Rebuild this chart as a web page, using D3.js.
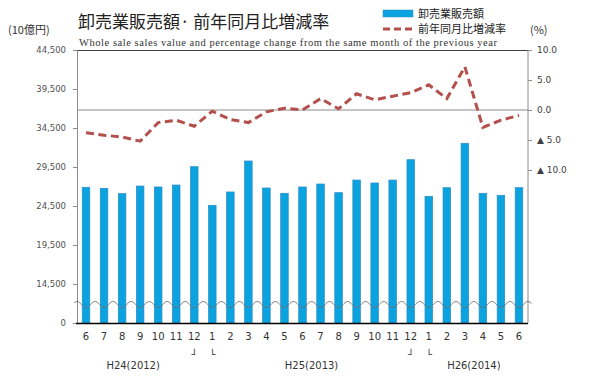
<!DOCTYPE html>
<html><head><meta charset="utf-8">
<script src="https://cdn.jsdelivr.net/npm/d3@7"></script>
<style>
body{margin:0;background:#fff;}
svg{display:block;}
</style></head>
<body>
<svg id="chart" width="600" height="382"></svg>
<script>
const months = ["6","7","8","9","10","11","12","1","2","3","4","5","6","7","8","9","10","11","12","1","2","3","4","5","6"];
const sales = [26900,26770,26080,27060,26940,27190,29540,24590,26300,30270,26810,26130,26940,27320,26210,27830,27450,27830,30440,25740,26850,32540,26130,25870,26850];
const change = [-3.8,-4.2,-4.5,-5.2,-2.1,-1.7,-2.7,-0.2,-1.6,-2.1,-0.3,0.3,0.0,1.9,0.2,2.7,1.7,2.3,2.9,4.2,1.9,7.2,-2.9,-1.7,-0.9];
const leftTicks = [0,14500,19500,24500,29500,34500,39500,44500];
const rightTicks = [10,5,0,-5,-10];
const yearLabels = [{label:"H24(2012)", from:0, to:6},{label:"H25(2013)", from:7, to:18},{label:"H26(2014)", from:19, to:24}];
const yearMarks = [{label:"┘", at:6},{label:"└", at:7},{label:"┘", at:18},{label:"└", at:19}];

const svg = d3.select("#chart");
const L = 77, R = 528, T = 50, B = 323;
const idx = months.map((d,i)=>i);
const x = d3.scaleBand().domain(idx).range([L,R]).paddingInner(0.58).paddingOuter(0.29);
const y = d3.scaleLinear().domain([0,14500,44500]).range([B,284,T]);
const y2 = d3.scaleLinear().domain([-10,10]).range([170,T]);
const cx = i => x(i) + x.bandwidth()/2;

const numFont = "DejaVu Sans, Verdana, sans-serif";
const jpFont = "'Noto Sans CJK JP', sans-serif";

// bars
svg.append("g").selectAll("rect").data(sales).join("rect")
  .attr("x",(d,i)=>x(i)).attr("width",x.bandwidth())
  .attr("y",d=>y(d)).attr("height",d=>B-y(d))
  .attr("fill","#0aa3e0").attr("stroke","#2f8bc2").attr("stroke-width",0.7);

// zero line
svg.append("line").attr("x1",L).attr("x2",R).attr("y1",y2(0)).attr("y2",y2(0))
  .attr("stroke","#8c8c8c").attr("stroke-width",1);

// top line
svg.append("line").attr("x1",L).attr("x2",R).attr("y1",T+0.5).attr("y2",T+0.5)
  .attr("stroke","#404040").attr("stroke-width",1);

// left axis
const ga = svg.append("g").attr("transform",`translate(${L},0)`)
  .call(d3.axisLeft(y).tickValues(leftTicks).tickFormat(d3.format(",")).tickSize(4).tickPadding(7));
ga.select(".domain").attr("stroke","#8c8c8c");
ga.selectAll(".tick line").attr("stroke","#8c8c8c");
ga.selectAll("text").attr("font-family",numFont).attr("font-size",8.5).attr("fill","#505050");

// right axis
const gr = svg.append("g").attr("transform",`translate(${R},0)`)
  .call(d3.axisRight(y2).tickValues(rightTicks).tickFormat(d=> d<0 ? "▲ "+Math.abs(d).toFixed(1) : d.toFixed(1)).tickSize(4).tickPadding(5));
gr.select(".domain").remove();
gr.selectAll(".tick line").attr("stroke","#8c8c8c");
gr.selectAll("text").attr("font-family",numFont).attr("font-size",9).attr("fill","#404040");
svg.append("line").attr("x1",R).attr("x2",R).attr("y1",T).attr("y2",B).attr("stroke","#8c8c8c");

// wave break
const wave = d3.range(L-3, R+4, 0.5).map(px=>[px, 304.5 + 3*Math.cos((px-cx(0))/x.step()*2*Math.PI)]);
svg.append("path").attr("d",d3.line()(wave)).attr("fill","none").attr("stroke","#707070").attr("stroke-width",1);

// bottom axis line
svg.append("line").attr("x1",L-1).attr("x2",R).attr("y1",B+0.5).attr("y2",B+0.5).attr("stroke","#000").attr("stroke-width",1.5);

// change line
svg.append("path").datum(change)
  .attr("d",d3.line().x((d,i)=>cx(i)).y(d=>y2(d)))
  .attr("fill","none").attr("stroke","#b4504b").attr("stroke-width",3)
  .attr("stroke-dasharray","8,4.5");

// month labels
svg.append("g").selectAll("text").data(months).join("text")
  .attr("x",(d,i)=>cx(i)).attr("y",340).attr("text-anchor","middle")
  .attr("font-family",numFont).attr("font-size",10).attr("fill","#333")
  .text(d=>d);

// year labels
svg.append("g").selectAll("text").data(yearLabels).join("text")
  .attr("x",d=>(cx(d.from)+cx(d.to))/2 - (d.from===0?7:0)).attr("y",369).attr("text-anchor","middle")
  .attr("font-family",numFont).attr("font-size",10).attr("fill","#333")
  .text(d=>d.label);
svg.append("g").selectAll("text").data(yearMarks).join("text")
  .attr("x",d=>cx(d.at)).attr("y",358).attr("text-anchor","middle")
  .attr("font-family",numFont).attr("font-size",10).attr("fill","#333")
  .text(d=>d.label);

// titles
svg.append("text").attr("x",8).attr("y",34).attr("font-family",jpFont).attr("font-size",11).attr("fill","#333").text("(10億円)");
svg.append("text").attr("x",78).attr("y",28).attr("font-family",jpFont).attr("font-size",17).attr("fill","#222").text("卸売業販売額· 前年同月比増減率");
svg.append("text").attr("x",79).attr("y",46).attr("font-family","'Liberation Serif', serif").attr("font-size",10.5).attr("fill","#333")
  .attr("textLength",418).attr("lengthAdjust","spacing")
  .text("Whole sale sales value and percentage change  from the same month of the previous year");
svg.append("text").attr("x",530).attr("y",34).attr("font-family",jpFont).attr("font-size",11).attr("fill","#333").text("(%)");

// legend
svg.append("rect").attr("x",383).attr("y",10).attr("width",30).attr("height",7).attr("fill","#0aa3e0").attr("stroke","#2f8bc2").attr("stroke-width",0.5);
svg.append("text").attr("x",418).attr("y",18).attr("font-family",jpFont).attr("font-size",11).attr("fill","#222").text("卸売業販売額");
svg.append("line").attr("x1",383).attr("x2",413).attr("y1",29).attr("y2",29).attr("stroke","#b4504b").attr("stroke-width",3).attr("stroke-dasharray","7,4");
svg.append("text").attr("x",418).attr("y",33).attr("font-family",jpFont).attr("font-size",11).attr("fill","#222").text("前年同月比増減率");
</script>
</body></html>
